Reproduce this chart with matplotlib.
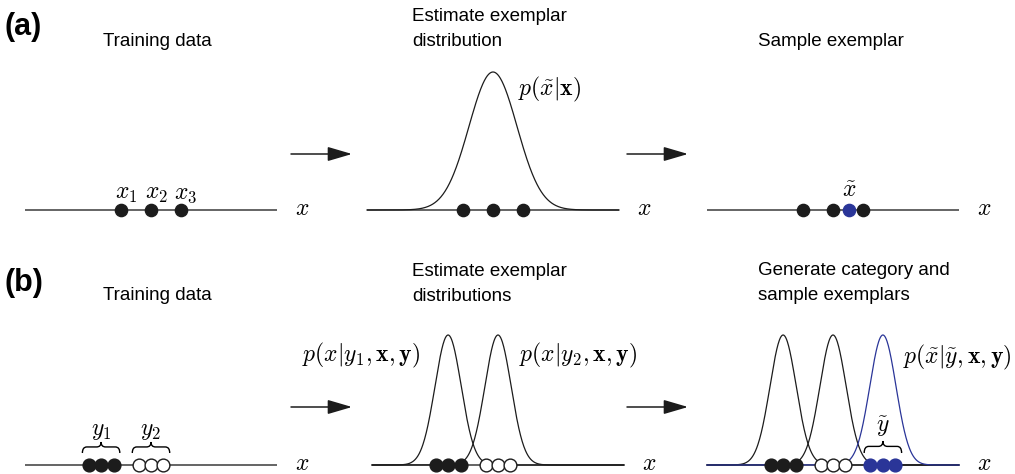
import numpy as np
import matplotlib
matplotlib.use("Agg")
import matplotlib.pyplot as plt
from matplotlib.path import Path
from matplotlib.patches import PathPatch, FancyArrowPatch

plt.rcParams["font.family"] = ["Liberation Sans", "DejaVu Sans"]
plt.rcParams["mathtext.fontset"] = "cm"

W, H = 1015, 474

# ---- data -------------------------------------------------------------
# row (a): one category, three exemplars and one sampled exemplar
a_exemplars = [-1.0, 0.0, 1.0]
a_sample = 0.53
a_sigma = 0.8
a_labels = [r"$x_1$", r"$x_2$", r"$x_3$"]

# row (b): two known categories and one generated category
b_cat_means = [-4.0, 0.0, 4.0]
b_offsets = [-1.0, 0.0, 1.0]
b_sigma = 1.05

titles_a = ["Training data", "Estimate exemplar\ndistribution", "Sample exemplar"]
titles_b = ["Training data", "Estimate exemplar\ndistributions",
            "Generate category and\nsample exemplars"]

BLACK = "#1c1c1c"
BLUE = "#2a3598"
LINE = "#3a3a3a"
MATH = 17

fig = plt.figure(figsize=(W / 100, H / 100), dpi=100)


def panel(left, base, width, height, xlim):
    ax = fig.add_axes([left / W, 1 - base / H, width / W, height / H])
    ax.set_xlim(*xlim)
    ax.set_ylim(0, 1)
    ax.axis("off")
    ax.plot(xlim, [0, 0], color=LINE, lw=1.1, solid_capstyle="butt",
            zorder=1, clip_on=False)
    ax.annotate(r"$x$", xy=(1, 0), xycoords=("axes fraction", "data"),
                xytext=(18, 1), textcoords="offset pixels",
                ha="left", va="center", fontsize=MATH)
    return ax


def gauss(ax, mu, sigma, xlim, color):
    xs = np.linspace(xlim[0], xlim[1], 600)
    ax.plot(xs, np.exp(-0.5 * ((xs - mu) / sigma) ** 2), color=color,
            lw=0.9, zorder=2, clip_on=False)


def dots(ax, xs, face, edge, size):
    ax.plot(xs, np.zeros(len(xs)), "o", ms=size, mfc=face, mec=edge,
            mew=1.0, zorder=4, clip_on=False, ls="none")


def brace(ax, x0, x1, y0, h, color="k"):
    xm = 0.5 * (x0 + x1)
    q = 0.12 * (x1 - x0)
    ym = y0 + h * 0.55
    verts = [(x0, y0), (x0, ym), (x0 + q, ym), (xm - q, ym), (xm, ym),
             (xm, y0 + h), (xm, ym), (xm + q, ym), (x1 - q, ym),
             (x1, ym), (x1, y0)]
    codes = [Path.MOVETO, Path.CURVE3, Path.CURVE3, Path.LINETO,
             Path.CURVE3, Path.CURVE3, Path.CURVE3, Path.CURVE3,
             Path.LINETO, Path.CURVE3, Path.CURVE3]
    ax.add_patch(PathPatch(Path(verts, codes), fc="none", ec=color,
                           lw=1.0, clip_on=False))


# ---- row (a) ----------------------------------------------------------
xa = (-4.2, 4.2)
a1 = panel(25, 210, 252, 138, xa)
dots(a1, a_exemplars, BLACK, BLACK, 8.8)
for xv, lab in zip(a_exemplars, a_labels):
    a1.annotate(lab, xy=(xv, 0), xytext=(5, 16), textcoords="offset pixels",
                ha="center", va="center", fontsize=MATH)

a2 = panel(367, 210, 252, 138, xa)
gauss(a2, np.mean(a_exemplars), a_sigma, xa, BLACK)
dots(a2, a_exemplars, BLACK, BLACK, 8.8)
a2.text(0.83, 0.87, r"$p(\tilde{x}|\mathbf{x})$", ha="left", va="center",
        fontsize=MATH)

a3 = panel(707, 210, 252, 138, xa)
dots(a3, a_exemplars, BLACK, BLACK, 8.8)
dots(a3, [a_sample], BLUE, BLUE, 8.8)
a3.annotate(r"$\tilde{x}$", xy=(a_sample, 0), xytext=(0, 19),
            textcoords="offset pixels", ha="center", va="center", fontsize=MATH)

# ---- row (b) ----------------------------------------------------------
xb = (-10.1, 10.1)
px_y = 1 / 130.0  # one pixel in the row (b) y units


def cat_points(i):
    return [b_cat_means[i] + o for o in b_offsets]


b1 = panel(25, 465, 252, 130, xb)
dots(b1, cat_points(0), BLACK, BLACK, 9.2)
dots(b1, cat_points(1), "white", BLACK, 9.2)
for i, lab in enumerate([r"$y_1$", r"$y_2$"]):
    pts = cat_points(i)
    brace(b1, pts[0] - 0.5, pts[-1] + 0.5, 12 * px_y, 11 * px_y)
    b1.text(pts[1], 34 * px_y, lab, ha="center", va="center", fontsize=MATH)

b2 = panel(372, 465, 252, 130, xb)
gauss(b2, b_cat_means[0], b_sigma, xb, BLACK)
gauss(b2, b_cat_means[1], b_sigma, xb, BLACK)
dots(b2, cat_points(0), BLACK, BLACK, 9.2)
dots(b2, cat_points(1), "white", BLACK, 9.2)
b2.text(-6.2, 0.846, r"$p(x|y_1,\mathbf{x},\mathbf{y})$", ha="right",
        va="center", fontsize=MATH)
b2.text(1.7, 0.846, r"$p(x|y_2,\mathbf{x},\mathbf{y})$", ha="left",
        va="center", fontsize=MATH)

b3 = panel(707, 465, 252, 130, xb)
gauss(b3, b_cat_means[0], b_sigma, xb, BLACK)
gauss(b3, b_cat_means[1], b_sigma, xb, BLACK)
gauss(b3, b_cat_means[2], b_sigma, xb, BLUE)
dots(b3, cat_points(0), BLACK, BLACK, 9.2)
dots(b3, cat_points(1), "white", BLACK, 9.2)
dots(b3, cat_points(2), BLUE, BLUE, 9.2)
pts = cat_points(2)
brace(b3, pts[0] - 0.5, pts[-1] + 0.5, 12 * px_y, 12 * px_y)
b3.text(pts[1], 38 * px_y, r"$\tilde{y}$", ha="center", va="center",
        fontsize=MATH)
b3.text(5.6, 0.83, r"$p(\tilde{x}|\tilde{y},\mathbf{x},\mathbf{y})$",
        ha="left", va="center", fontsize=MATH)

# ---- titles, panel letters and arrows ---------------------------------
def ftext(x, y, s, **kw):
    fig.text(x / W, 1 - y / H, s, **kw)


ftext(4, 27, "(a)", fontsize=22, fontweight="bold", ha="left", va="center")
ftext(4, 283, "(b)", fontsize=22, fontweight="bold", ha="left", va="center")

title_kw = dict(fontsize=13.5, va="center", linespacing=1.55)
ftext(157, 41, titles_a[0], ha="center", **title_kw)
ftext(412, 29, titles_a[1], ha="left", **title_kw)
ftext(758, 41, titles_a[2], ha="left", **title_kw)
ftext(157, 296, titles_b[0], ha="center", **title_kw)
ftext(412, 284, titles_b[1], ha="left", **title_kw)
ftext(758, 283, titles_b[2], ha="left", **title_kw)

for yrow in (154, 407):
    for x0, x1 in ((291, 352), (627, 688)):
        fig.add_artist(FancyArrowPatch(
            (x0 / W, 1 - yrow / H), (x1 / W, 1 - yrow / H),
            transform=fig.transFigure, arrowstyle="-|>,head_length=0.75,head_width=0.22",
            mutation_scale=20, color=BLACK, lw=1.1, shrinkA=0, shrinkB=0))

fig.savefig("out.png", dpi=100)
